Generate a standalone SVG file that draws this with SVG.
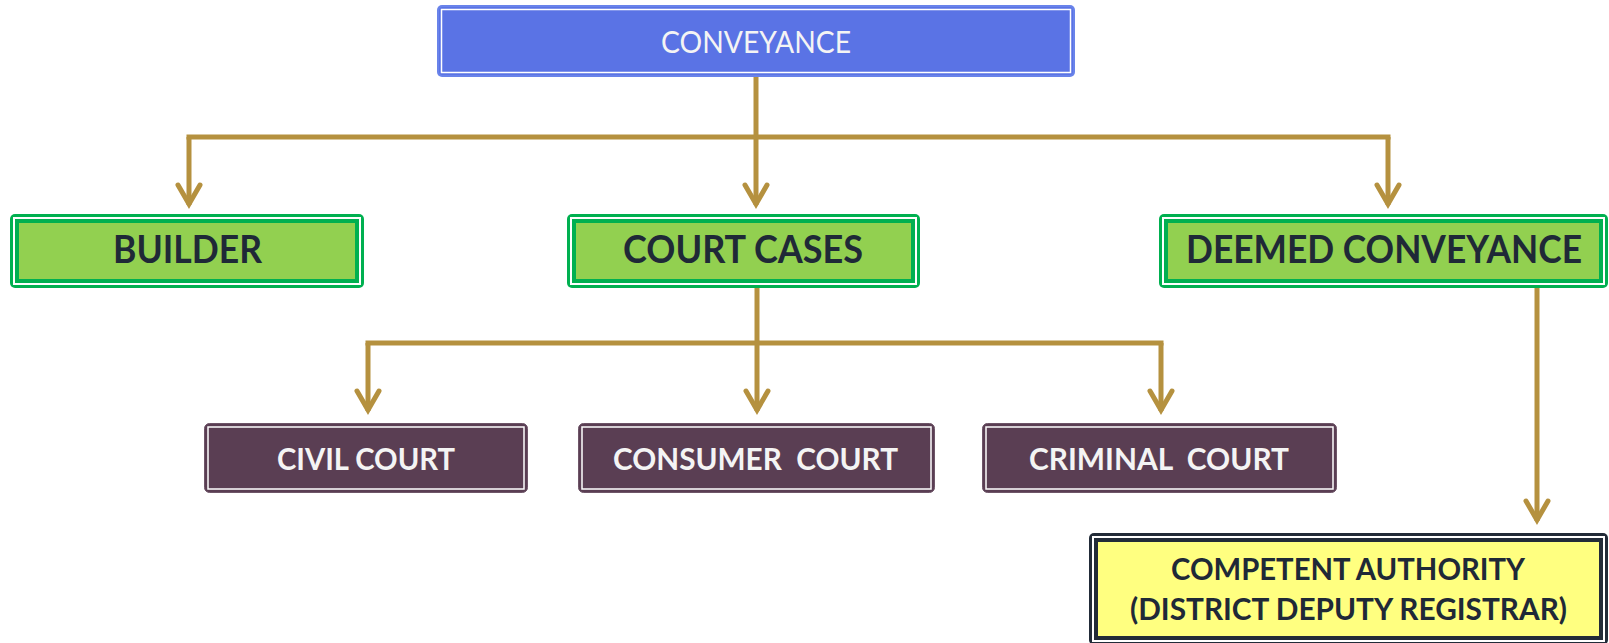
<svg xmlns="http://www.w3.org/2000/svg" width="1609" height="643" viewBox="0 0 1609 643">
  <defs>
    <style>
      .wire { fill: none; stroke: #B5913F; stroke-width: 5; stroke-linecap: butt; stroke-linejoin: miter; }
      .chev { fill: none; stroke: #B5913F; stroke-width: 5; stroke-linecap: round; stroke-linejoin: miter; }
      .lbl { font-family: Lato, "Liberation Sans", sans-serif; text-anchor: middle; white-space: pre; }
      .blue-edge { fill: #6983EA; }
      .blue-fill { fill: #5A73E5; }
      .white-line { fill: none; stroke: #FFFFFF; stroke-width: 1.5; }
      .green-edge { fill: #00B050; }
      .green-fill { fill: #92D050; }
      .gap { fill: #FFFFFF; }
      .plum-fill { fill: #5A3E53; stroke: #6E5568; stroke-width: 1; }
      .dark-edge { fill: #222B38; }
      .yellow-fill { fill: #FFFF80; }
      .t-white { fill: #F4F4F4; }
      .t-dark { fill: #1F2937; }
    </style>
    <path id="chev" class="chev" d="M-11,-19 L0,0 L11,-19"/>
  </defs>

  <!-- connectors -->
  <g id="connectors">
    <!-- root fan-out -->
    <path class="wire" d="M756,77 V205"/>
    <path class="wire" d="M186.5,137 H1390.5"/>
    <path class="wire" d="M189,137 V205"/>
    <path class="wire" d="M1388,137 V205"/>
    <!-- court cases fan-out -->
    <path class="wire" d="M757,288 V411"/>
    <path class="wire" d="M365.5,343 H1163.5"/>
    <path class="wire" d="M368,343 V411"/>
    <path class="wire" d="M1161,343 V411"/>
    <!-- deemed conveyance to authority -->
    <path class="wire" d="M1537,288 V521"/>
    <!-- arrowheads -->
    <use href="#chev" x="189" y="204"/>
    <use href="#chev" x="756" y="204"/>
    <use href="#chev" x="1388" y="204"/>
    <use href="#chev" x="368" y="410"/>
    <use href="#chev" x="757" y="410"/>
    <use href="#chev" x="1161" y="410"/>
    <use href="#chev" x="1537" y="520"/>
  </g>

  <!-- root -->
  <g id="node-conveyance">
    <rect class="blue-edge" x="437" y="5" width="638" height="72" rx="5"/>
    <rect class="blue-fill" x="439" y="7" width="634" height="68" rx="4"/>
    <rect class="white-line" x="441.5" y="9.5" width="629" height="63"/>
    <text class="lbl t-white" x="756" y="53" font-size="30.7" textLength="190" lengthAdjust="spacingAndGlyphs">CONVEYANCE</text>
  </g>

  <!-- second level -->
  <g id="node-builder">
    <rect class="green-edge" x="10" y="214" width="354" height="74" rx="5"/>
    <rect class="gap" x="13" y="217" width="348" height="68"/>
    <rect class="green-edge" x="15" y="219" width="344" height="64"/>
    <rect class="green-fill" x="19" y="223" width="336" height="56"/>
    <text class="lbl t-dark" x="187.5" y="262.5" font-size="39" font-weight="bold" textLength="149" lengthAdjust="spacingAndGlyphs">BUILDER</text>
  </g>

  <g id="node-court-cases">
    <rect class="green-edge" x="567" y="214" width="353" height="74" rx="5"/>
    <rect class="gap" x="570" y="217" width="347" height="68"/>
    <rect class="green-edge" x="572" y="219" width="343" height="64"/>
    <rect class="green-fill" x="576" y="223" width="335" height="56"/>
    <text class="lbl t-dark" x="743" y="262.5" font-size="39" font-weight="bold" textLength="240" lengthAdjust="spacingAndGlyphs">COURT CASES</text>
  </g>

  <g id="node-deemed-conveyance">
    <rect class="green-edge" x="1159" y="214" width="449" height="74" rx="5"/>
    <rect class="gap" x="1162" y="217" width="443" height="68"/>
    <rect class="green-edge" x="1164" y="219" width="439" height="64"/>
    <rect class="green-fill" x="1168" y="223" width="431" height="56"/>
    <text class="lbl t-dark" x="1384" y="262.5" font-size="39" font-weight="bold" textLength="396" lengthAdjust="spacingAndGlyphs">DEEMED CONVEYANCE</text>
  </g>

  <!-- third level -->
  <g id="node-civil-court">
    <rect class="plum-fill" x="204.5" y="423.5" width="323" height="69" rx="5"/>
    <rect class="white-line" x="208" y="427" width="316" height="62" stroke-width="1.3"/>
    <text class="lbl t-white" x="366" y="470" font-size="30" font-weight="bold" textLength="178" lengthAdjust="spacingAndGlyphs">CIVIL COURT</text>
  </g>

  <g id="node-consumer-court">
    <rect class="plum-fill" x="578.5" y="423.5" width="356" height="69" rx="5"/>
    <rect class="white-line" x="582" y="427" width="349" height="62" stroke-width="1.3"/>
    <text class="lbl t-white" x="755.5" y="470" font-size="30" font-weight="bold" textLength="285" lengthAdjust="spacingAndGlyphs">CONSUMER  COURT</text>
  </g>

  <g id="node-criminal-court">
    <rect class="plum-fill" x="982.5" y="423.5" width="354" height="69" rx="5"/>
    <rect class="white-line" x="986" y="427" width="347" height="62" stroke-width="1.3"/>
    <text class="lbl t-white" x="1159" y="470" font-size="30" font-weight="bold" textLength="260" lengthAdjust="spacingAndGlyphs">CRIMINAL  COURT</text>
  </g>

  <!-- authority -->
  <g id="node-competent-authority">
    <rect class="dark-edge" x="1089" y="533" width="519" height="112" rx="5"/>
    <rect class="gap" x="1092" y="536" width="513" height="106"/>
    <rect class="dark-edge" x="1094" y="538" width="509" height="102"/>
    <rect class="yellow-fill" x="1098" y="542" width="501" height="94"/>
    <text class="lbl t-dark" x="1348" y="580" font-size="29.5" font-weight="bold" textLength="354" lengthAdjust="spacingAndGlyphs">COMPETENT AUTHORITY</text>
    <text class="lbl t-dark" x="1348.5" y="620" font-size="29.5" font-weight="bold" textLength="437" lengthAdjust="spacingAndGlyphs">(DISTRICT DEPUTY REGISTRAR)</text>
  </g>
</svg>
